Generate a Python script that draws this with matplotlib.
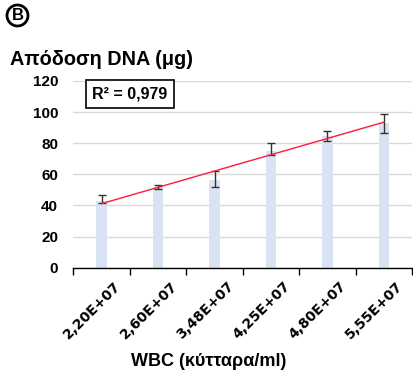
import numpy as np
import matplotlib
matplotlib.use("Agg")
import matplotlib.pyplot as plt
from matplotlib.transforms import ScaledTranslation

categories = ["2,20E+07", "2,60E+07", "3,48E+07", "4,25E+07", "4,80E+07", "5,55E+07"]
dna_yield = [43.1, 51.7, 56.6, 75.2, 84.7, 92.9]
err_center = [44.0, 51.7, 57.1, 76.1, 84.9, 92.7]
err_half = [2.6, 1.3, 5.2, 3.9, 3.2, 6.3]
y_ticks = [0, 20, 40, 60, 80, 100, 120]
r2_text = "R² = 0,979"

plt.rcParams['font.family'] = ['Liberation Sans', 'DejaVu Sans']

fig = plt.figure(figsize=(4.13, 3.71), dpi=100)
ax = fig.add_axes([0.1775, 0.2784, 0.8205, 0.5033])

x = np.arange(len(categories))
ax.bar(x, dna_yield, width=0.19, color='#dae3f3', zorder=2)
ax.errorbar(x, err_center, yerr=err_half, fmt='none', ecolor='#333333',
            elinewidth=1.0, capsize=3, capthick=1.0, zorder=3)
coef = np.polyfit(x, dna_yield, 1)
ax.plot(x, np.polyval(coef, x), color='#ff1a3c', lw=1.0, zorder=4)

ax.set_xlim(-0.5, len(categories) - 0.5)
ax.set_ylim(0, 120)
ax.set_yticks(y_ticks)
ax.set_yticklabels([str(v) for v in y_ticks], fontsize=11, fontweight='bold')
ax.tick_params(axis='y', length=0, pad=11)
ax.grid(axis='y', color='#d9d9d9', lw=1.0, zorder=0)
ax.set_axisbelow(True)
for s in ['left', 'right', 'top']:
    ax.spines[s].set_visible(False)
ax.spines['bottom'].set_linewidth(1.0)
ax.spines['bottom'].set_zorder(5)

ax.set_xticks(np.arange(-0.5, len(categories), 1.0))
ax.set_xticklabels([])
ax.tick_params(axis='x', length=5, width=1.0, direction='out')
offset = ScaledTranslation(12/100, -11/100, fig.dpi_scale_trans)
for i, lab in enumerate(categories):
    ax.text(i, 0, lab, transform=ax.get_xaxis_transform() + offset,
            rotation=45, ha='right', va='top', rotation_mode='anchor',
            fontsize=10, fontweight='bold', family='DejaVu Sans')

fig.text(0.024, 0.8248, "Απόδοση DNA (μg)", fontsize=14.3, fontweight='bold',
         ha='left', va='baseline')
fig.text(0.506, 0.0135, "WBC (κύτταρα/ml)", fontsize=13, fontweight='bold',
         ha='center', va='baseline')

fig.text(0.3148, 0.7466, r2_text, fontsize=11.5, fontweight='bold',
         ha='center', va='center',
         bbox=dict(boxstyle='square,pad=0.4', fc='white', ec='black', lw=1.2))

fig.text(17.5/413, 1 - 15.5/371, "B", fontsize=12, fontweight='bold', ha='center', va='center',
         bbox=dict(boxstyle='circle,pad=0.18', fc='white', ec='black', lw=2))

fig.savefig("out.png", dpi=100)
